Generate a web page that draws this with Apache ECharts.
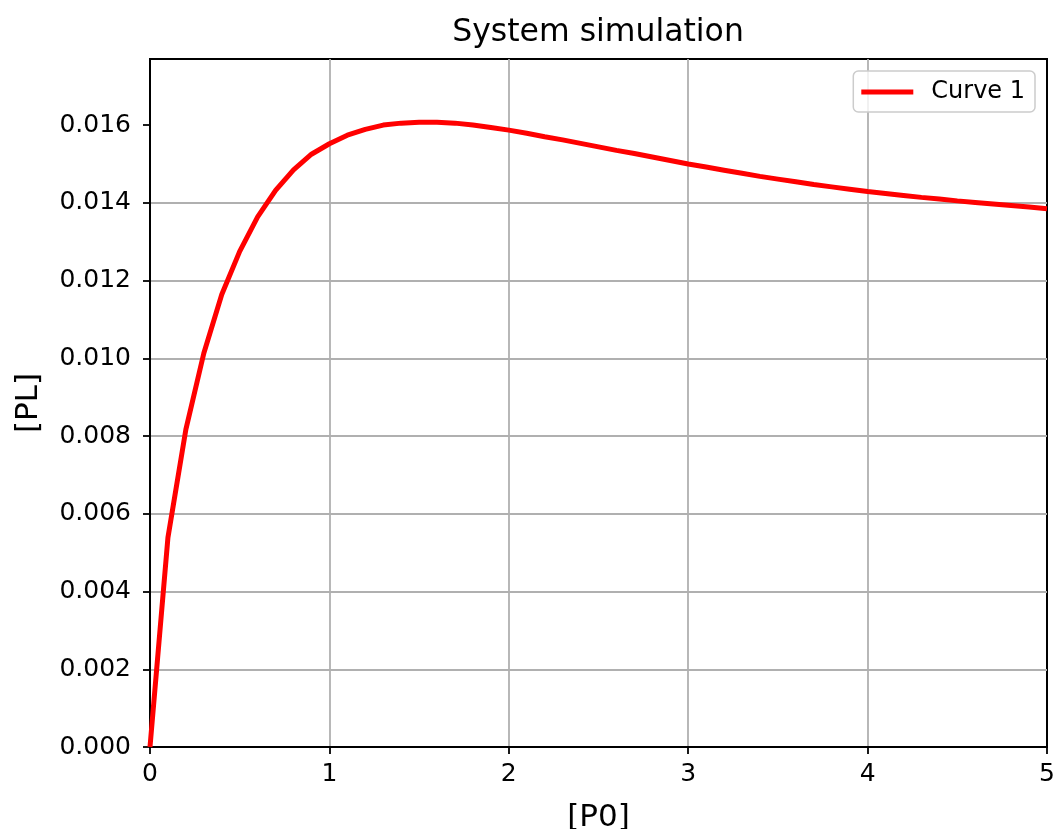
<!DOCTYPE html>
<html>
<head>
<meta charset="utf-8">
<script src="https://cdn.jsdelivr.net/npm/echarts@6/dist/echarts.min.js"></script>
<style>
html,body{margin:0;padding:0;background:#fff;}
#chart{width:1055px;height:829px;}
</style>
</head>
<body>
<div id="chart"></div>
<script>
const xValues = [0.0,0.1,0.2,0.3,0.4,0.5,0.6,0.7,0.8,0.9,
  1.0,1.1,1.2,1.3,1.4,1.5,1.6,1.7,1.8,1.9,
  2.0,2.1,2.2,2.3,2.4,2.5,2.6,2.7,2.8,2.9,
  3.0,3.1,3.2,3.3,3.4,3.5,3.6,3.7,3.8,3.9,
  4.0,4.1,4.2,4.3,4.4,4.5,4.6,4.7,4.8,4.9,5.0];
const curve1 = [0.0,0.00539,0.00817,0.01013,0.01164,0.01275,0.01364,0.01432,0.01485,0.01525,
  0.01552,0.01574,0.01589,0.01600,0.01605,0.01607,0.01607,0.01605,0.01600,0.01594,
  0.01587,0.01579,0.01570,0.01562,0.01553,0.01544,0.01535,0.01527,0.01518,0.01509,
  0.01500,0.01492,0.01484,0.01476,0.01468,0.01461,0.01454,0.01447,0.01441,0.01435,
  0.01429,0.01424,0.01419,0.01414,0.01410,0.01405,0.01401,0.01397,0.01393,0.01389,0.01385];
const xTicks = [0,1,2,3,4,5];
const yTicks = [0,0.002,0.004,0.006,0.008,0.010,0.012,0.014,0.016];
const seriesName = 'Curve 1';
const titleText = 'System simulation';
const xName = '[P0]';
const yName = '[PL]';

const FONT = 'DejaVu Sans';
const chart = echarts.init(document.getElementById('chart'), null, {renderer:'canvas'});
chart.setOption({
  animation:false,
  backgroundColor:'#fff',
  title:{
    text:titleText,
    left:598, top:17, textAlign:'center', padding:0,
    textStyle:{fontFamily:FONT,fontSize:31.5,fontWeight:'normal',color:'#000'}
  },
  legend:{
    data:[{name:seriesName,icon:'rect'}],
    right:20, top:71,
    padding:[9,10,8,8],
    itemWidth:52, itemHeight:5,
    borderColor:'#cccccc', borderWidth:1.5, borderRadius:5,
    backgroundColor:'rgba(255,255,255,0.8)',
    textStyle:{fontFamily:FONT,fontSize:24,color:'#000',padding:[0,0,0,13]}
  },
  grid:{
    left:150, right:8, top:59, bottom:82,
    outerBoundsMode:'none',
    containLabel:false,
    show:true, borderColor:'#000', borderWidth:2, backgroundColor:'transparent'
  },
  xAxis:{
    type:'value', min:0, max:5, interval:1,
    name:xName, nameLocation:'middle', nameGap:55,
    nameTextStyle:{fontFamily:FONT,fontSize:31,color:'#000',verticalAlign:'top'},
    axisLine:{show:true,lineStyle:{color:'#000',width:2}},
    axisTick:{show:true,inside:false,length:7,lineStyle:{color:'#000',width:1.8},customValues:xTicks},
    axisLabel:{fontFamily:FONT,fontSize:25,color:'#000',margin:15,customValues:xTicks,formatter:v=>String(v)},
    splitLine:{show:true,showMinLine:false,showMaxLine:false,lineStyle:{color:'#b0b0b0',width:1.8}}
  },
  yAxis:{
    type:'value', min:0, max:0.0177, interval:0.002,
    name:yName, nameLocation:'middle', nameGap:106, nameRotate:90,
    nameTextStyle:{fontFamily:FONT,fontSize:31,color:'#000'},
    axisLine:{show:true,lineStyle:{color:'#000',width:2}},
    axisTick:{show:true,inside:false,length:7,lineStyle:{color:'#000',width:1.8},customValues:yTicks},
    axisLabel:{fontFamily:FONT,fontSize:25,color:'#000',margin:19,customValues:yTicks,formatter:v=>Number(v).toFixed(3)},
    splitLine:{show:true,showMinLine:false,showMaxLine:false,lineStyle:{color:'#b0b0b0',width:1.8}}
  },
  series:[{
    name:seriesName,
    type:'line',
    data:xValues.map((x,i)=>[x,curve1[i]]),
    symbol:'none',
    smooth:false,
    clip:true,
    lineStyle:{color:'#ff0000',width:5},
    itemStyle:{color:'#ff0000'}
  }]
});
</script>
</body>
</html>
